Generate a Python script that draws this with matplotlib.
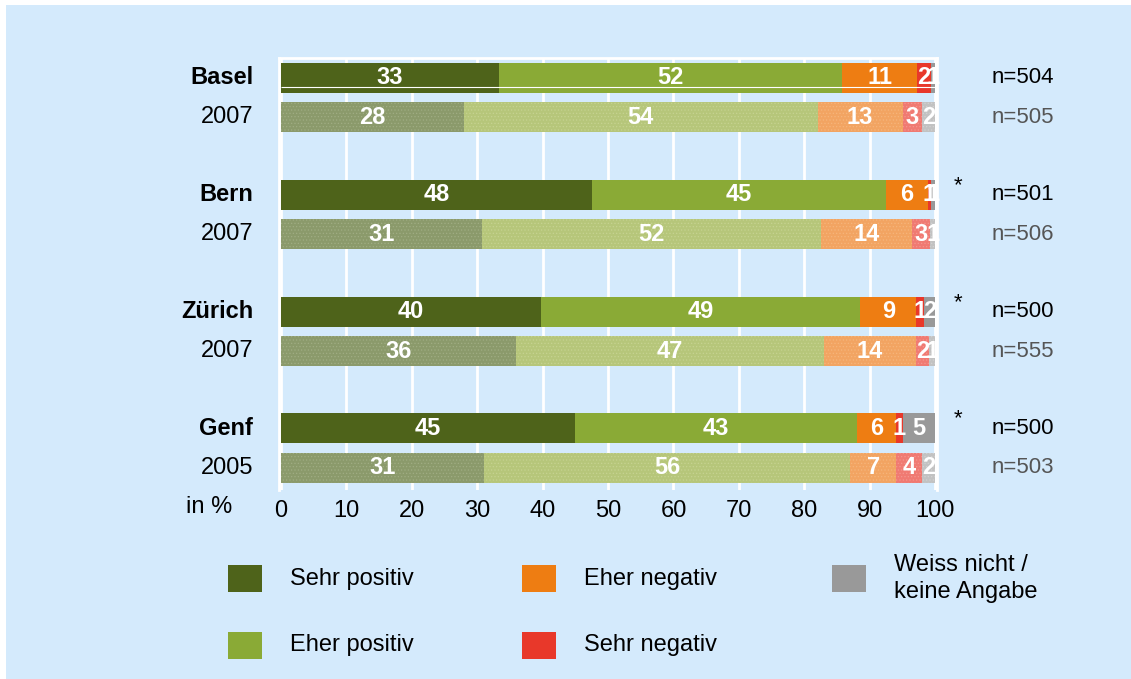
import matplotlib
matplotlib.use("Agg")
import matplotlib.pyplot as plt
from matplotlib.patches import Rectangle

plt.rcParams['font.family'] = ['Liberation Sans', 'DejaVu Sans']
plt.rcParams['hatch.linewidth'] = 0.5

# survey results in percent (one decimal, labels are rounded), one row per city
cities = ["Basel", "Bern", "Zürich", "Genf"]
years = ["2007", "2007", "2007", "2005"]
categories = ["Sehr positiv", "Eher positiv", "Eher negativ", "Sehr negativ",
              "Weiss nicht /\nkeine Angabe"]
current = [
    [33.4, 52.4, 11.4, 2.1, 0.7],
    [47.6, 44.8, 6.4, 0.6, 0.6],
    [39.7, 48.8, 8.6, 1.2, 1.7],
    [45.0, 43.0, 6.0, 1.0, 5.0],
]
previous = [
    [28.0, 54.0, 13.0, 3.0, 2.0],
    [30.7, 51.9, 13.9, 2.7, 0.8],
    [36.0, 47.0, 14.0, 2.0, 1.0],
    [31.0, 56.0, 7.0, 4.0, 2.0],
]
n_current = [504, 501, 500, 500]
n_previous = [505, 506, 555, 503]
significant = [False, True, True, True]
x_ticks = [0, 10, 20, 30, 40, 50, 60, 70, 80, 90, 100]

colors = ["#4e631a", "#8aaa36", "#ee7d12", "#e8382a", "#999999"]
colors_old = ["#8b9a6b", "#b6c67a", "#f2a462", "#f07a72", "#c2c2c2"]
hatch_old = ["#a0ad84", "#c6d392", "#f6b57c", "#f49690", "#d2d2d2"]
bg = "#d4eafc"

fig = plt.figure(figsize=(11.31, 6.79), dpi=100)
fig.patch.set_facecolor("white")
fig.add_artist(Rectangle((6 / 1131, 0), 1, 1 - 5 / 679, transform=fig.transFigure,
                         facecolor=bg, edgecolor="none", zorder=-10))

ax = fig.add_axes([279 / 1131, 1 - 490 / 679, 658 / 1131, 432 / 679])
ax.set_facecolor(bg)

offset = 0.338
height = 0.257
fs = 17


def stacked(y, values, fill, hatch_colors=None):
    left = 0
    for k, v in enumerate(values):
        if hatch_colors:
            ax.barh(y, v, left=left, height=height, color=fill[k],
                    edgecolor=hatch_colors[k], hatch=".....", linewidth=0, zorder=3)
        else:
            ax.barh(y, v, left=left, height=height, color=fill[k],
                    linewidth=0, zorder=3)
        ax.text(left + v / 2, y, f"{v:.0f}", ha="center", va="center",
                color="white", fontsize=fs, fontweight="bold", zorder=5)
        left += v


for i, city in enumerate(cities):
    y_cur = i
    y_old = i + offset
    stacked(y_cur, current[i], colors)
    stacked(y_old, previous[i], colors_old, hatch_old)

    ax.text(-4.2, y_cur, city, ha="right", va="center", fontsize=fs,
            fontweight="bold")
    ax.text(-4.2, y_old, years[i], ha="right", va="center", fontsize=fs)
    ax.text(108.6, y_cur, f"n={n_current[i]}", ha="left", va="center",
            fontsize=16, color="black")
    ax.text(108.6, y_old, f"n={n_previous[i]}", ha="left", va="center",
            fontsize=16, color="#555555")
    if significant[i]:
        ax.text(103.4, y_cur - 0.08, "*", ha="center", va="center",
                fontsize=16, color="black")

# thin white seam across the Basel bar
ax.hlines(0.08, 0, sum(current[0]), color="white", linewidth=0.8, zorder=4)

ax.set_xlim(-0.25, 100.25)
ax.set_ylim(3 + offset + 0.19, -0.171)
ax.set_xticks(x_ticks)
ax.set_xticklabels([str(t) for t in x_ticks], fontsize=fs)
ax.set_yticks([])
ax.tick_params(axis="x", length=0, pad=7)
ax.grid(axis="x", color="white", linewidth=2, zorder=0)
ax.set_axisbelow(True)
for side in ["top", "left", "right"]:
    ax.spines[side].set_color("white")
    ax.spines[side].set_linewidth(2)
ax.spines["bottom"].set_visible(False)

fig.text(232 / 1131, 1 - 507 / 679, "in %", ha="right", va="center", fontsize=fs)

# legend built from plain squares and labels
legend_pos = [(228, 565), (228, 632), (522, 565), (522, 632), (832, 565)]
for k, label in enumerate(categories):
    px, py = legend_pos[k]
    fig.add_artist(Rectangle((px / 1131, 1 - (py + 27) / 679), 34 / 1131, 27 / 679,
                             transform=fig.transFigure, facecolor=colors[k],
                             edgecolor="none"))
    ty = py + 13.5
    fig.text((px + 62) / 1131, 1 - ty / 679, label, ha="left", va="center",
             fontsize=fs, linespacing=1.35)

fig.savefig("out.png", dpi=100, facecolor=fig.get_facecolor())
